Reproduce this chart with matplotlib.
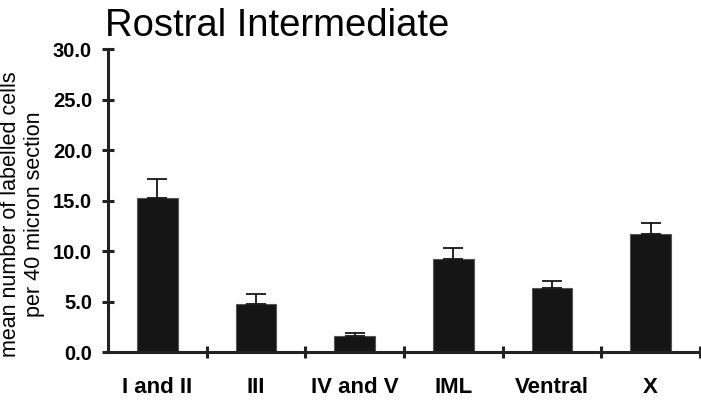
import numpy as np
import matplotlib
matplotlib.use("Agg")
import matplotlib.pyplot as plt

# Werte
kategorien = ["I and II", "III", "IV and V", "IML", "Ventral", "X"]
mittelwerte = [15.25, 4.75, 1.6, 9.2, 6.4, 11.7]
fehler = [1.95, 1.0, 0.35, 1.15, 0.7, 1.1]
y_ticks = [0.0, 5.0, 10.0, 15.0, 20.0, 25.0, 30.0]

plt.rcParams['font.family'] = ['Liberation Sans', 'DejaVu Sans']

fig = plt.figure(figsize=(7.01, 4.01), dpi=100)
ax = fig.add_axes([108/701, 1 - 352.3/401, (700 - 108)/701, (352.3 - 49.3)/401])

x = np.arange(len(kategorien))
ax.bar(x, mittelwerte, width=0.41, color="#151515", edgecolor="#555555", linewidth=0.8, zorder=2)
ax.errorbar(x, mittelwerte, yerr=[np.zeros(len(fehler)), fehler], fmt="none",
            ecolor="#151515", elinewidth=1.3, capsize=7.5, capthick=1.3, zorder=3)

ax.set_xlim(-0.5, len(kategorien) - 0.5)
ax.set_ylim(0, 30)
ax.set_yticks(y_ticks)
ax.set_yticklabels([f"{v:.1f}" for v in y_ticks], fontsize=14.5, fontweight="bold")
ax.set_xticks(x)
ax.set_xticklabels(kategorien, fontsize=16, fontweight="bold")
ax.set_xticks(np.arange(0.5, len(kategorien), 1.0), minor=True)

ax.tick_params(axis="x", which="major", length=0, pad=18)
ax.tick_params(axis="x", which="minor", direction="inout", length=9, width=2.2, color="#222222")
ax.tick_params(axis="y", which="major", direction="inout", length=9, width=2.2, color="#222222", pad=7)

for s in ["top", "right"]:
    ax.spines[s].set_visible(False)
for s in ["left", "bottom"]:
    ax.spines[s].set_linewidth(2.2)
    ax.spines[s].set_color("#222222")

ax.set_ylabel("mean number of labelled cells\nper 40 micron section", fontsize=15.5, linespacing=1.2)
ax.yaxis.set_label_coords(-(108 - 45)/592, 0.455)

fig.text(105/701, 1 - 36/401, "Rostral Intermediate", fontsize=27.5, va="baseline", ha="left")

fig.savefig("out.png", dpi=100)
